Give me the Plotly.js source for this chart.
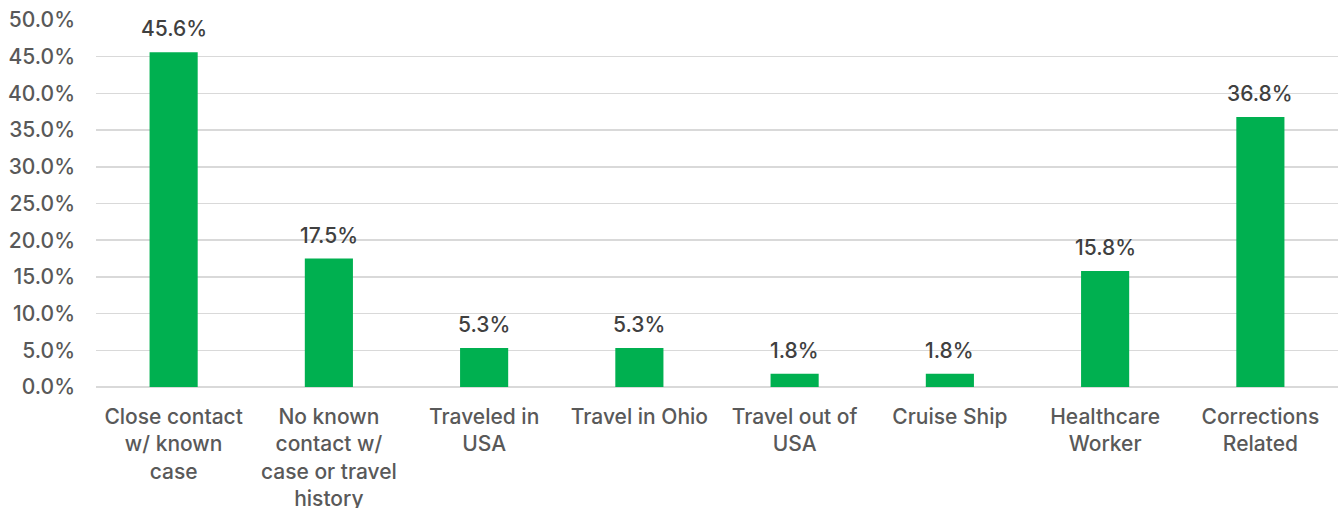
<!DOCTYPE html>
<html><head><meta charset="utf-8">
<script src="https://cdn.plot.ly/plotly-3.0.1.min.js"></script>
<style>html,body{margin:0;padding:0;background:#fff;}#chart{width:1338px;height:508px;}</style>
</head><body><div id="chart"></div>
<script>
const categories = [
  "Close contact<br>w/ known<br>case",
  "No known<br>contact w/<br>case or travel<br>history",
  "Traveled in<br>USA",
  "Travel in Ohio",
  "Travel out of<br>USA",
  "Cruise Ship",
  "Healthcare<br>Worker",
  "Corrections<br>Related"
];
const values = [0.456, 0.175, 0.053, 0.053, 0.018, 0.018, 0.158, 0.368];
const valueLabels = ["45.6%", "17.5%", "5.3%", "5.3%", "1.8%", "1.8%", "15.8%", "36.8%"];
const yTickVals = [0, 0.05, 0.10, 0.15, 0.20, 0.25, 0.30, 0.35, 0.40, 0.45, 0.50];

const FONT = "Inter, Liberation Sans, Arial, sans-serif";
const FS = 21;

const trace = {
  type: "bar",
  x: categories,
  y: values,
  marker: {color: "#00B050"},
  hoverinfo: "none"
};

const annotations = categories.map((c, i) => ({
  x: c, y: values[i], xref: "x", yref: "y",
  text: valueLabels[i], showarrow: false,
  yanchor: "bottom", yshift: 9,
  font: {family: FONT, size: FS, color: "#404040", weight: 500}
}));

const layout = {
  width: 1338, height: 508,
  margin: {l: 96, r: 0, t: 20, b: 121},
  paper_bgcolor: "#fff", plot_bgcolor: "#fff",
  bargap: 0.69,
  showlegend: false,
  font: {family: FONT, size: FS, color: "#595959"},
  xaxis: {
    type: "category",
    tickfont: {family: FONT, size: FS, color: "#595959", weight: 500},
    showgrid: false, zeroline: false, showline: false,
    ticks: "", ticklabelstandoff: 15
  },
  yaxis: {
    range: [0, 0.5],
    tickvals: yTickVals,
    tickformat: ".1%",
    tickfont: {family: FONT, size: FS, color: "#595959", weight: 500},
    showgrid: true, gridcolor: "#d9d9d9", gridwidth: 1.5,
    zeroline: true, zerolinecolor: "#d9d9d9", zerolinewidth: 1.5,
    showline: false, ticks: "", ticklabelstandoff: 20
  },
  annotations: annotations
};

Plotly.newPlot("chart", [trace], layout, {displayModeBar: false, staticPlot: true});
</script>
</body></html>
